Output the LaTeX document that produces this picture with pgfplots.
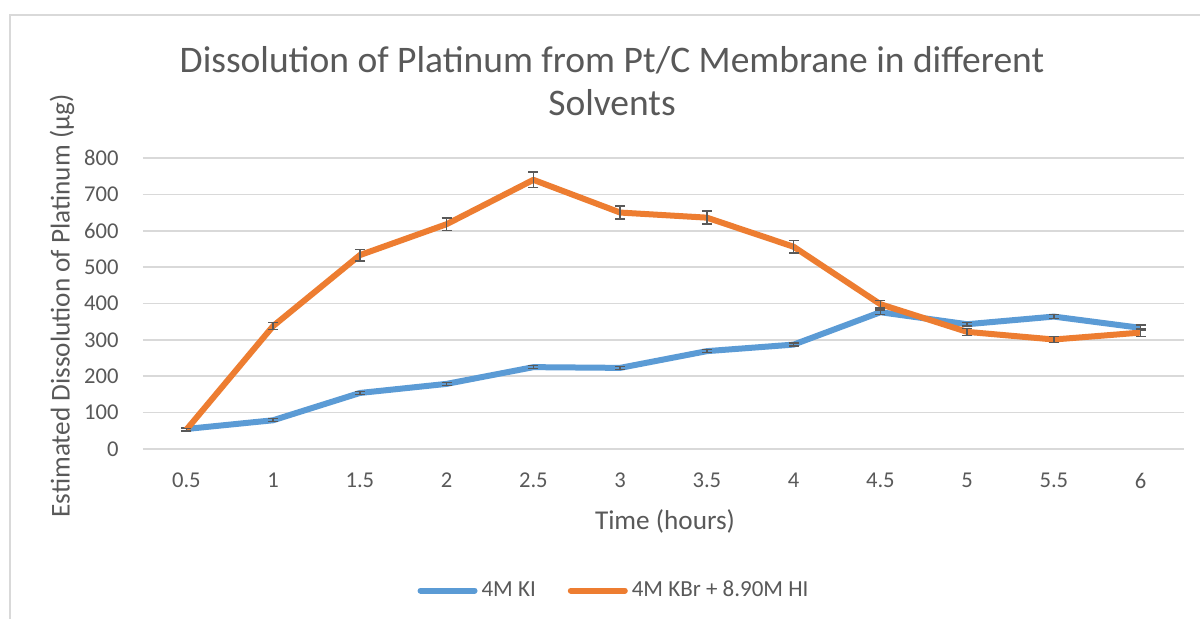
\documentclass[border=0pt]{standalone}
\usepackage{fontspec}
\setmainfont{Carlito}
\usepackage{pgfplots}
\pgfplotsset{compat=1.18}
\definecolor{kiblue}{HTML}{5B9BD5}
\definecolor{kbrorange}{HTML}{ED7D31}
\definecolor{txtgray}{HTML}{595959}
\definecolor{gridgray}{HTML}{D9D9D9}

\begin{document}
\begin{tikzpicture}
\useasboundingbox (0,0) rectangle (600pt,309.5pt);
\fill[white] (0,0) rectangle (600pt,309.5pt);
\draw[gridgray, line width=0.8pt] (5pt,-2pt) -- (5pt,302pt) -- (602pt,302pt);

% title and axis labels
\node[text=txtgray, font=\fontsize{18.75}{22}\selectfont] at (306pt,279.5pt) {Dissolution of Platinum from Pt/C Membrane in different};
\node[text=txtgray, font=\fontsize{18.75}{22}\selectfont] at (306pt,258pt) {Solvents};
\node[text=txtgray, font=\fontsize{13.6}{15}\selectfont, rotate=90] at (31pt,156.5pt) {Estimated Dissolution of Platinum (µg)};
\node[text=txtgray, font=\fontsize{13.6}{15}\selectfont] at (332.5pt,49pt) {Time (hours)};

\begin{axis}[
  at={(71.5pt,85pt)}, anchor=south west,
  scale only axis,
  width=520.5pt, height=145.5pt,
  xmin=-0.5, xmax=11.5,
  ymin=0, ymax=800,
  xtick={0,1,...,11},
  xticklabels={0.5,1,1.5,2,2.5,3,3.5,4,4.5,5,5.5,6},
  ytick={0,100,...,800},
  /pgf/number format/assume math mode=true,
  axis line style={draw=none},
  major tick length=0pt,
  ymajorgrids,
  grid style={gridgray, line width=0.8pt},
  tick label style={font=\fontsize{11.3}{13}\selectfont, text=txtgray},
  yticklabel style={anchor=east, inner sep=0pt, xshift=-12pt},
  xticklabel style={anchor=center, inner sep=0pt, yshift=-15.75pt},
  clip=false,
  legend columns=2,
  legend style={at={(0.4534,-0.4863)}, anchor=center, draw=none, fill=none,
    font=\fontsize{11.5}{13}\selectfont, text=txtgray,
    /tikz/every even column/.append style={column sep=14pt}},
  legend image code/.code={\draw[#1, line cap=round] (0pt,0pt) -- (27pt,0pt);},
  every axis plot/.append style={line width=3pt, line join=round, mark=none},
]

\addplot[kiblue,
  error bars/.cd, y dir=both, y explicit,
  error bar style={txtgray, line width=0.7pt},
  error mark options={txtgray, rotate=90, mark size=2.5pt, line width=0.7pt}]
  coordinates {
  (0,55) +- (0,4)
  (1,79) +- (0,4)
  (2,154) +- (0,4)
  (3,179) +- (0,4)
  (4,225) +- (0,4)
  (5,223) +- (0,4)
  (6,269) +- (0,4)
  (7,287) +- (0,4)
  (8,376) +- (0,6)
  (9,343) +- (0,5)
  (10,364) +- (0,5)
  (11,333) +- (0,8)
};
\addlegendentry{4M KI}

\addplot[kbrorange,
  error bars/.cd, y dir=both, y explicit,
  error bar style={txtgray, line width=0.7pt},
  error mark options={txtgray, rotate=90, mark size=2.5pt, line width=0.7pt}]
  coordinates {
  (0,53) +- (0,3)
  (1,338) +- (0,10)
  (2,533) +- (0,16)
  (3,618) +- (0,17)
  (4,740) +- (0,21)
  (5,650) +- (0,18)
  (6,636) +- (0,18)
  (7,556) +- (0,17)
  (8,398) +- (0,10)
  (9,322) +- (0,10)
  (10,301) +- (0,8)
  (11,320) +- (0,10)
};
\addlegendentry{4M KBr + 8.90M HI}

\end{axis}
\end{tikzpicture}
\end{document}
